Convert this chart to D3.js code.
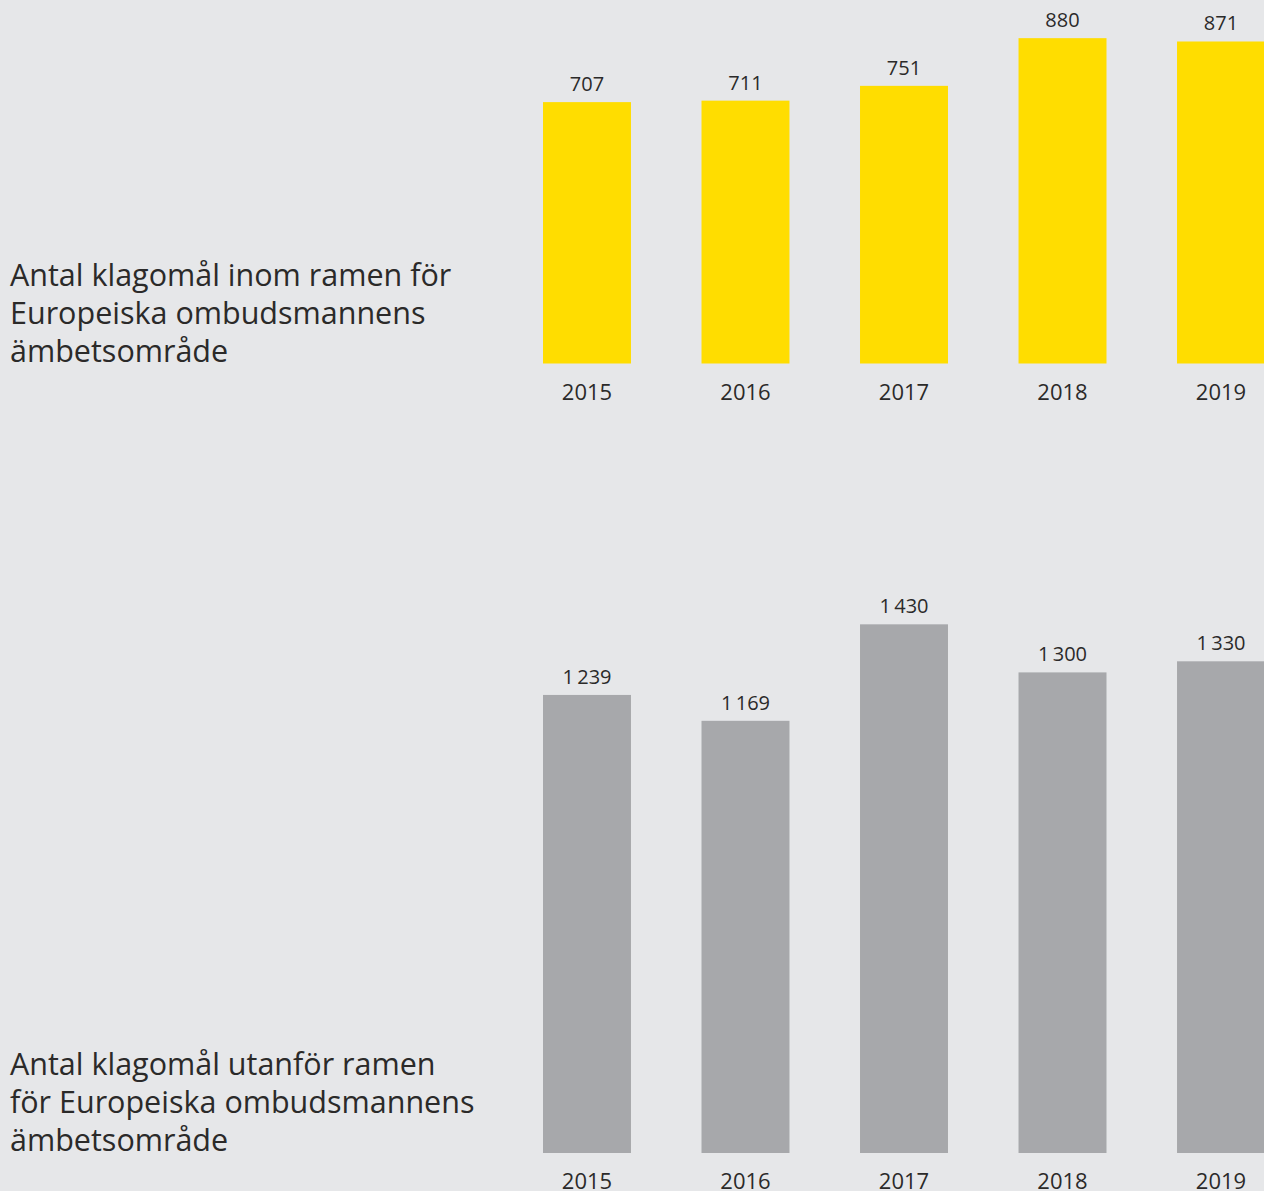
<!DOCTYPE html>
<html>
<head>
<meta charset="utf-8">
<script src="https://cdn.jsdelivr.net/npm/d3@7"></script>
<style>
  html, body { margin: 0; padding: 0; background: #e6e7e9; }
  svg { display: block; font-family: "Open Sans", sans-serif; }
</style>
</head>
<body>
<div id="chart"></div>
<script>
// data
const years = ["2015", "2016", "2017", "2018", "2019"];
const inside = [707, 711, 751, 880, 871];
const outside = [1239, 1169, 1430, 1300, 1330];
const titleInside = ["Antal klagomål inom ramen för", "Europeiska ombudsmannens", "ämbetsområde"];
const titleOutside = ["Antal klagomål utanför ramen", "för Europeiska ombudsmannens", "ämbetsområde"];

const W = 1264, H = 1191;
const textColor = "#2b2a29";
const pxPerUnit = 0.3697;

const svg = d3.select("#chart").append("svg")
  .attr("width", W)
  .attr("height", H);

svg.append("rect").attr("width", W).attr("height", H).attr("fill", "#e6e7e9");

const fmt = d3.formatLocale({ decimal: ",", thousands: "\u2009", grouping: [3], currency: ["", ""] }).format(",d");

const x = d3.scaleBand()
  .domain(years)
  .range([543, 1265])
  .paddingInner(0.445)
  .paddingOuter(0);

function drawPanel(values, color, baseY, titleLines, titleBaseY) {
  const maxV = d3.max(values);
  const y = d3.scaleLinear()
    .domain([0, maxV])
    .range([baseY, baseY - maxV * pxPerUnit]);

  const g = svg.append("g");

  g.selectAll("rect.bar")
    .data(values)
    .join("rect")
    .attr("class", "bar")
    .attr("x", (d, i) => x(years[i]))
    .attr("y", d => y(d))
    .attr("width", x.bandwidth())
    .attr("height", d => y(0) - y(d))
    .attr("fill", color);

  g.selectAll("text.val")
    .data(values)
    .join("text")
    .attr("class", "val")
    .attr("x", (d, i) => x(years[i]) + x.bandwidth() / 2)
    .attr("y", d => y(d) - 11)
    .attr("text-anchor", "middle")
    .attr("font-size", 20)
    .attr("fill", textColor)
    .text(d => fmt(d));

  // year axis, no line or ticks
  const axis = g.append("g")
    .attr("transform", `translate(0,${baseY})`)
    .call(d3.axisBottom(x).tickSize(0).tickPadding(0));
  axis.select(".domain").remove();
  axis.selectAll("text")
    .attr("font-family", "Open Sans, sans-serif")
    .attr("font-size", 22)
    .attr("fill", textColor)
    .attr("dy", null)
    .attr("y", 36);

  svg.append("text")
    .attr("x", 10)
    .attr("y", titleBaseY)
    .attr("font-size", 30.5)
    .attr("fill", textColor)
    .selectAll("tspan")
    .data(titleLines)
    .join("tspan")
    .attr("x", 10)
    .attr("dy", (d, i) => i === 0 ? 0 : 38)
    .text(d => d);
}

drawPanel(inside, "#ffdd00", 363.5, titleInside, 286);
drawPanel(outside, "#a7a8ab", 1153, titleOutside, 1075);
</script>
</body>
</html>
